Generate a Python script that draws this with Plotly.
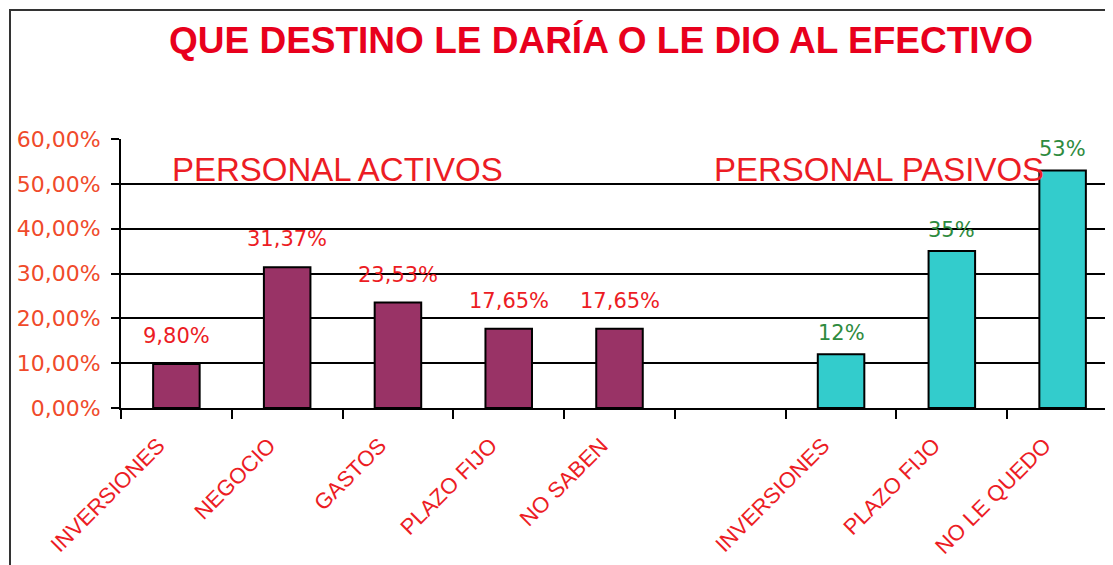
import plotly.graph_objects as go

# datos
ACT_CATS = ["INVERSIONES", "NEGOCIO", "GASTOS", "PLAZO FIJO", "NO SABEN"]
ACT_VALS = [0.0980, 0.3137, 0.2353, 0.1765, 0.1765]
PAS_CATS = ["INVERSIONES", "PLAZO FIJO", "NO LE QUEDO"]
PAS_VALS = [0.12, 0.35, 0.53]

Y_TICKS = [0, 0.1, 0.2, 0.3, 0.4, 0.5, 0.6]

COLORS = {
    "activos": "#993366",
    "pasivos": "#33CCCC",
    "title": "#E8001C",
    "red_txt": "#EC1C24",
    "orange_txt": "#F04A2A",
    "green_txt": "#2E8B3E",
}

# la página añade 8 px de margen al cuerpo
W, H = 1113, 565
ML, MR, MT, MB = 113, 3, 131, 165

act_keys = ["act_" + c for c in ACT_CATS]
pas_keys = ["pas_" + c for c in PAS_CATS]
all_keys = act_keys + ["gap"] + pas_keys
all_text = ACT_CATS + [""] + PAS_CATS

fig = go.Figure()
fig.add_trace(go.Bar(x=act_keys, y=ACT_VALS, width=0.42,
                     marker=dict(color=COLORS["activos"], line=dict(color="black", width=2))))
fig.add_trace(go.Bar(x=pas_keys, y=PAS_VALS, width=0.42,
                     marker=dict(color=COLORS["pasivos"], line=dict(color="black", width=2))))

for k, v in zip(act_keys, ACT_VALS):
    fig.add_annotation(x=k, y=v, text=f"{v*100:.2f}%".replace(".", ","), showarrow=False,
                       yanchor="bottom", yshift=14,
                       font=dict(family="DejaVu Sans", size=21, color=COLORS["red_txt"]))
for k, v in zip(pas_keys, PAS_VALS):
    fig.add_annotation(x=k, y=v, text=f"{v*100:.0f}%", showarrow=False,
                       yanchor="bottom", yshift=7,
                       font=dict(family="DejaVu Sans", size=21, color=COLORS["green_txt"]))

pw = W - ML - MR
ph = H - MT - MB

# rótulos de grupo
fig.add_annotation(x=(162 - ML) / pw, y=0.5, xref="paper", yref="y", xanchor="left", yanchor="bottom",
                   text="PERSONAL ACTIVOS", showarrow=False, yshift=-6,
                   font=dict(family="Liberation Sans", size=33, color=COLORS["red_txt"]))
fig.add_annotation(x=(704 - ML) / pw, y=0.5, xref="paper", yref="y", xanchor="left", yanchor="bottom",
                   text="PERSONAL PASIVOS", showarrow=False, yshift=-6,
                   font=dict(family="Liberation Sans", size=33, color=COLORS["red_txt"]))

# marco del gráfico
fig.add_shape(type="rect", xref="paper", yref="paper",
              x0=(2 - ML) / pw, x1=(W + 20 - ML) / pw,
              y0=-(H + 20 - MT - ph) / ph, y1=(MT - 2) / ph + 1,
              line=dict(color="#333", width=2), layer="below")

fig.update_layout(
    width=W, height=H,
    title=dict(text="<b>QUE DESTINO LE DARÍA O LE DIO AL EFECTIVO</b>", x=593 / W, xanchor="center",
               y=1 - 32 / H, yanchor="middle",
               font=dict(family="Liberation Sans", size=37, color=COLORS["title"])),
    separators=",.",
    barmode="overlay",
    showlegend=False,
    plot_bgcolor="white", paper_bgcolor="white",
    margin=dict(l=ML, r=MR, t=MT, b=MB),
    xaxis=dict(type="category", categoryorder="array", categoryarray=all_keys,
               tickmode="array", tickvals=all_keys, ticktext=all_text,
               tickson="boundaries", ticks="outside", ticklen=9, tickwidth=2, tickcolor="black",
               tickangle=-45, ticklabelstandoff=14, ticklabelshift=-18,
               tickfont=dict(family="Liberation Sans", size=22, color=COLORS["red_txt"]),
               showline=True, linecolor="black", linewidth=2, showgrid=False,
               range=[-0.5, len(all_keys) - 0.5]),
    yaxis=dict(range=[0, 0.6], tickvals=Y_TICKS, tickformat=".2%",
               tickfont=dict(family="DejaVu Sans", size=22, color=COLORS["orange_txt"]),
               showgrid=True, gridcolor="black", gridwidth=2,
               ticks="outside", ticklen=8, tickcolor="black", tickwidth=2, ticklabelstandoff=6,
               showline=True, linecolor="black", linewidth=2, zeroline=False),
)

fig.write_html("out.html")
